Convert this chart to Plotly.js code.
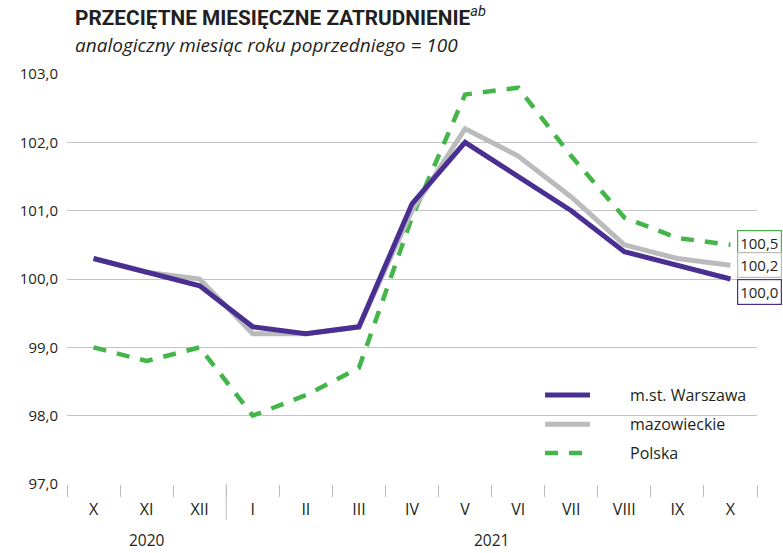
<!DOCTYPE html>
<html>
<head>
<meta charset="utf-8">
<script src="https://cdn.plot.ly/plotly-3.0.1.min.js"></script>
<style>html,body{margin:0;padding:0;background:#fff}#chart{width:783px;height:553px}</style>
</head>
<body>
<div id="chart"></div>
<script>
const months = ["X","XI","XII","I","II","III","IV","V","VI","VII","VIII","IX","X "];
const monthLabels = ["X","XI","XII","I","II","III","IV","V","VI","VII","VIII","IX","X"];
const warszawa = [100.3,100.1,99.9,99.3,99.2,99.3,101.1,102.0,101.5,101.0,100.4,100.2,100.0];
const mazowieckie = [100.3,100.1,100.0,99.2,99.2,99.3,101.0,102.2,101.8,101.2,100.5,100.3,100.2];
const polska = [99.0,98.8,99.0,98.0,98.3,98.7,100.9,102.7,102.8,101.8,100.9,100.6,100.5];
const yTicks = [97,98,99,100,101,102,103];
const yTickText = ["97,0","98,0","99,0","100,0","101,0","102,0","103,0"];
const seriesNames = ["m.st. Warszawa","mazowieckie","Polska"];

const cPurple = "#4a2f92", cGray = "#b9bbbd", cGreen = "#44b649";
const fontFam = "'Open Sans', 'Noto Sans', sans-serif";
const txt = "#231f20";
const fmt = v => v.toFixed(1).replace(".", ",");
const greenDash = "13px,11px";

const traces = [
  {x: months, y: polska, name: seriesNames[2], mode: "lines", line: {color: cGreen, width: 4.5, dash: greenDash}, showlegend: false},
  {x: months, y: mazowieckie, name: seriesNames[1], mode: "lines", line: {color: cGray, width: 5}, showlegend: false},
  {x: months, y: warszawa, name: seriesNames[0], mode: "lines", line: {color: cPurple, width: 5}, showlegend: false}
];

const last = months.length - 1;
const endLabels = [
  {v: polska[last], c: cGreen, dy: -2},
  {v: mazowieckie[last], c: cGray, dy: 0},
  {v: warszawa[last], c: cPurple, dy: 13}
].map(o => ({
  x: months[last], y: o.v, xref: "x", yref: "y", text: fmt(o.v),
  showarrow: false, xanchor: "left", xshift: 7, yshift: -o.dy,
  bordercolor: o.c, borderwidth: 1.2, borderpad: 2, bgcolor: "#fff",
  font: {family: fontFam, size: 15, color: txt}
}));

// manual legend (paper coords)
const legY = [0.217, 0.146, 0.0756];
const legColors = [cPurple, cGray, cGreen];
const legShapes = legY.map((y, i) => ({
  type: "line", xref: "paper", yref: "paper", x0: 0.6928, x1: 0.758, y0: y, y1: y,
  line: {color: legColors[i], width: i === 2 ? 4.5 : 5, dash: i === 2 ? greenDash : "solid"}
}));
const legText = legY.map((y, i) => ({
  text: seriesNames[i], xref: "paper", yref: "paper", x: 0.813, y: y, xanchor: "left", yanchor: "middle",
  showarrow: false, font: {family: fontFam, size: 16, color: txt}
}));

const layout = {
  width: 783, height: 553,
  margin: {l: 67, r: 26, t: 74, b: 69},
  paper_bgcolor: "#fff", plot_bgcolor: "#fff",
  font: {family: fontFam, color: txt, size: 15},
  showlegend: false,
  xaxis: {
    type: "category", tickmode: "array", tickvals: months, ticktext: monthLabels,
    tickson: "boundaries", ticks: "outside", ticklen: 12, tickcolor: "#bdbdbd", tickwidth: 1,
    showgrid: false, showline: false, zeroline: false, fixedrange: true, ticklabelstandoff: 14,
    tickfont: {family: fontFam, size: 16, color: txt},
    range: [-0.5, 12.5]
  },
  yaxis: {
    range: [97, 103], tickmode: "array", tickvals: yTicks, ticktext: yTickText,
    showgrid: true, gridcolor: "#c4c4c4", gridwidth: 1, zeroline: false, showline: false,
    ticks: "", ticklabelstandoff: 8,
    tickfont: {family: fontFam, size: 15, color: txt}
  },
  shapes: [
    {type: "line", xref: "x", yref: "paper", x0: 2.5, x1: 2.5, y0: 0, y1: -0.088, line: {color: "#bdbdbd", width: 1}}
  ].concat(legShapes),
  annotations: [
    {text: "<b>PRZECIĘTNE MIESIĘCZNE ZATRUDNIENIE</b><sup><i>ab</i></sup>", xref: "paper", yref: "paper",
     x: 0, y: 1, xshift: 6, yshift: 42, xanchor: "left", yanchor: "bottom", showarrow: false,
     font: {family: "Roboto, 'Open Sans', sans-serif", size: 20.8, color: txt}},
    {text: "<i>analogiczny miesiąc roku poprzedniego = 100</i>", xref: "paper", yref: "paper",
     x: 0, y: 1, xshift: 6, yshift: 14, xanchor: "left", yanchor: "bottom", showarrow: false,
     font: {family: fontFam, size: 19, color: txt}},
    {text: "2020", xref: "x", yref: "paper", x: months[1], y: 0, yshift: -56, yanchor: "middle", showarrow: false,
     font: {family: fontFam, size: 15.5, color: txt}},
    {text: "2021", x: 7.5, xref: "x", yref: "paper", y: 0, yshift: -56, yanchor: "middle", showarrow: false,
     font: {family: fontFam, size: 15.5, color: txt}}
  ].concat(endLabels, legText)
};

Plotly.newPlot("chart", traces, layout, {displayModeBar: false, staticPlot: true});
</script>
</body>
</html>
